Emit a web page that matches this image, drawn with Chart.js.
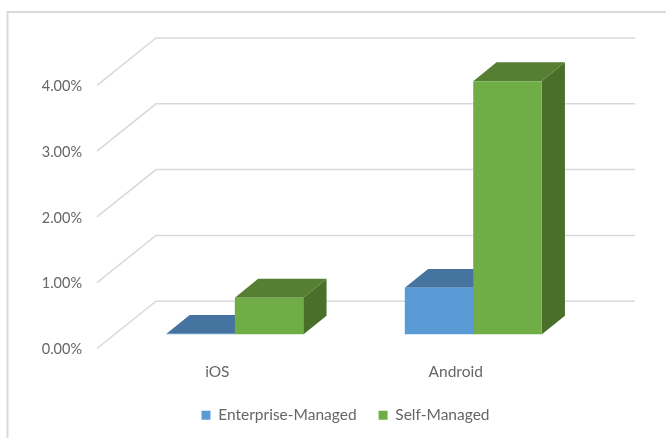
<!DOCTYPE html>
<html lang="en">
<head>
    <meta charset="utf-8" />
    <title>Managed devices</title>
    <style>
        html, body { margin: 0; padding: 0; background: #fff; overflow: hidden; }
        canvas { display: block; }
    </style>
</head>
<body>
<canvas id="chart" width="666" height="438"></canvas>

<script src="https://cdn.jsdelivr.net/npm/chart.js"></script>
<script>
    const categories = ['iOS', 'Android'];
    const enterpriseManaged = [0.01, 0.71];
    const selfManaged = [0.56, 3.85];
    const yTicks = [0, 1, 2, 3, 4];

    const frontColors = ['#5b9bd5', '#70ad47'];
    const topColors = ['#44749f', '#567f34'];
    const sideColors = ['#3d6a94', '#4a6f2a'];

    // Excel style 3D: walls, gridlines and bar depth are drawn around the library's scales
    const depth3d = {
        id: 'depth3d',
        afterLayout(chart) {
            // legend sits right of the plot's centre in the original
            chart.legend.left += 36.8;
            chart.legend.right += 36.8;
        },
        beforeDatasetsDraw(chart) {
            const ctx = chart.ctx;
            const y = chart.scales.y;
            ctx.save();
            // chart frame
            ctx.strokeStyle = '#d9d9d9';
            ctx.lineWidth = 2;
            ctx.beginPath();
            ctx.moveTo(666, 12);
            ctx.lineTo(7.5, 12);
            ctx.lineTo(7.5, 438);
            ctx.stroke();
            // gridlines
            ctx.lineWidth = 1.5;
            yTicks.forEach(v => {
                const py = y.getPixelForValue(v);
                ctx.beginPath();
                ctx.moveTo(97, py + 14);
                ctx.lineTo(156, py - 33.3);
                ctx.lineTo(635, py - 33.3);
                ctx.stroke();
            });
            // bar tops and sides, the library paints the fronts over them
            const dx = 23.3, dy = 18.8;
            chart.data.datasets.forEach((ds, i) => {
                chart.getDatasetMeta(i).data.forEach(bar => {
                    const l = bar.x - bar.width / 2;
                    const r = bar.x + bar.width / 2;
                    ctx.fillStyle = sideColors[i];
                    ctx.beginPath();
                    ctx.moveTo(r, bar.y);
                    ctx.lineTo(r + dx, bar.y - dy);
                    ctx.lineTo(r + dx, bar.base - dy);
                    ctx.lineTo(r, bar.base);
                    ctx.closePath();
                    ctx.fill();
                    ctx.fillStyle = topColors[i];
                    ctx.beginPath();
                    ctx.moveTo(l, bar.y);
                    ctx.lineTo(l + dx, bar.y - dy);
                    ctx.lineTo(r + dx, bar.y - dy);
                    ctx.lineTo(r, bar.y);
                    ctx.closePath();
                    ctx.fill();
                });
            });
            ctx.restore();
        }
    };

    new Chart(document.getElementById('chart'), {
        type: 'bar',
        data: {
            labels: categories,
            datasets: [
                {
                    label: 'Enterprise-Managed',
                    data: enterpriseManaged,
                    backgroundColor: frontColors[0],
                    categoryPercentage: 0.574,
                    barPercentage: 1
                },
                {
                    label: 'Self-Managed',
                    data: selfManaged,
                    backgroundColor: frontColors[1],
                    categoryPercentage: 0.574,
                    barPercentage: 1
                }
            ]
        },
        options: {
            responsive: false,
            animation: false,
            devicePixelRatio: 1,
            layout: { padding: { top: 71.3, left: 25, right: 73.6, bottom: 5 } },
            scales: {
                x: {
                    grid: { display: false },
                    border: { display: false },
                    afterFit: s => { s.height = 51; },
                    ticks: {
                        color: '#666666',
                        font: { family: 'Lato', size: 15.5 },
                        padding: 20,
                        labelOffset: -17.5,
                        maxRotation: 0
                    }
                },
                y: {
                    min: 0,
                    max: 4,
                    grid: { display: false, drawTicks: false },
                    border: { display: false },
                    afterFit: s => { s.width = 90.65; },
                    afterBuildTicks: s => { s.ticks = yTicks.map(value => ({ value })); },
                    ticks: {
                        color: '#666666',
                        font: { family: 'Lato', size: 14.5 },
                        padding: 33.6,
                        labelOffset: 15,
                        callback: v => v.toFixed(2) + '%'
                    }
                }
            },
            plugins: {
                legend: {
                    position: 'bottom',
                    labels: {
                        color: '#666666',
                        font: { family: 'Lato', size: 15.5 },
                        boxWidth: 9,
                        boxHeight: 9,
                        padding: 22
                    }
                },
                tooltip: { enabled: false }
            }
        },
        plugins: [depth3d]
    });
</script>
</body>
</html>
